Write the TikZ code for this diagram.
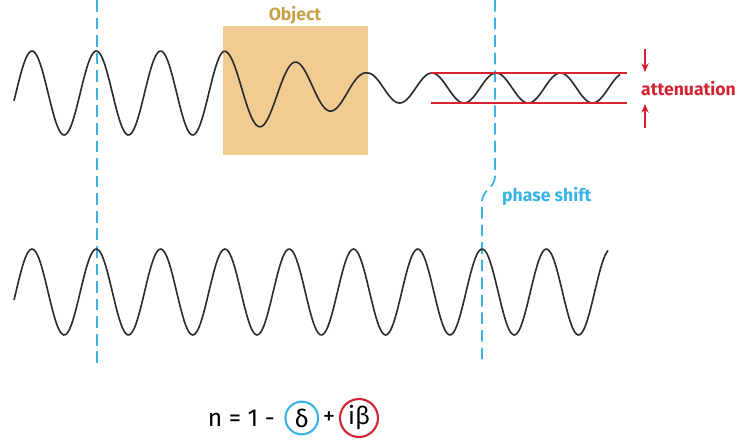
\documentclass[tikz,border=0pt]{standalone}
\usepackage{fontspec}
\setmainfont{Fira Sans}
\usetikzlibrary{arrows.meta,positioning}
\definecolor{dashblue}{RGB}{59,180,229}
\definecolor{objfill}{RGB}{240,204,146}
\definecolor{objtext}{RGB}{200,160,72}
\definecolor{attred}{RGB}{212,36,52}
\definecolor{wavegray}{RGB}{45,45,45}
\begin{document}
\begin{tikzpicture}[
    x=0.03cm, y=-0.03cm,
    wave/.style={wavegray, line width=1.4pt, smooth},
    guide/.style={dashblue, line width=1.5pt, dash pattern=on 10pt off 5pt},
    redline/.style={attred, line width=1.1pt},
    arr/.style={-{Stealth[length=2.6mm, width=2.2mm]}, attred, line width=1.1pt},
    lbl/.style={font=\bfseries\fontsize{15}{17}\selectfont, inner sep=0pt},
    eqtext/.style={inner sep=0pt, font=\fontsize{21}{25}\selectfont},
    ring/.style={eqtext, circle, line width=1.8pt},
    declare function={fr(\t)=min(max(\t-223,0),145)/145; ph(\t)=\t-14*fr(\t);}
  ]
    \useasboundingbox (0,0) rectangle (739,441);

    \fill[objfill] (223,26) rectangle (368,155);
    \node[lbl, text=objtext] (obj) at (295,15) {Object};

    \draw[guide] (97,0) -- (97,363);
    \draw[guide] (495,0) -- (495,175) .. controls (495,190) and (482,188) .. (482,203) -- (482,363);

    \draw[wave] plot[domain=14:620, samples=400]
      (\x, {93-5*fr(\x)-(42-27*fr(\x))*cos((ph(\x)-32)/64.3*360)});
    \draw[wave] plot[domain=14:608, samples=300]
      (\x, {292-43*cos((\x-32)/64.3*360)});

    \coordinate (top1) at (431,73);
    \coordinate (top2) at (627,73);
    \coordinate (bot1) at (431,103);
    \coordinate (bot2) at (627,103);
    \draw[redline] (top1) -- (top2);
    \draw[redline] (bot1) -- (bot2);
    \coordinate (dn) at (645,49);
    \coordinate (up) at (645,128);
    \draw[arr] (dn) -- (645,72);
    \draw[arr] (up) -- (645,104);
    \node[lbl, text=attred, anchor=west] (att) at (641,89) {attenuation};
    \node[lbl, text=dashblue, anchor=west] (ps) at (502,196) {phase shift};

    \node[eqtext, anchor=east] (eqa) at (275,418) {n = 1 -};
    \node[ring, draw=dashblue, minimum size=9.8mm, right=8pt of eqa] (delta) {δ};
    \node[eqtext, right=3pt of delta] (plus) {+};
    \node[ring, draw=attred, minimum size=11.4mm, right=3pt of plus] (ibeta) {iβ};
  \end{tikzpicture}
\end{document}
